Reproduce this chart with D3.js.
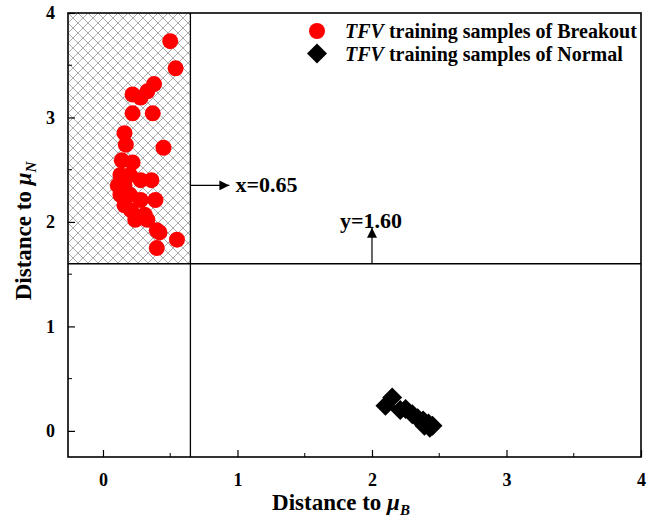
<!DOCTYPE html>
<html>
<head>
<meta charset="utf-8">
<script src="https://cdn.jsdelivr.net/npm/d3@7"></script>
<style>
  body { margin: 0; background: #fff; }
  svg { font-family: "Liberation Serif", "Times New Roman", serif; font-weight: bold; }
</style>
</head>
<body>
<svg width="651" height="518"></svg>
<script>
"use strict";

// TFV training samples
const breakoutX = [0.50, 0.54, 0.38, 0.33, 0.22, 0.28, 0.22, 0.37, 0.16, 0.17, 0.45, 0.14, 0.22,
  0.13, 0.20, 0.16, 0.11, 0.28, 0.36, 0.13, 0.20, 0.28, 0.39, 0.21, 0.16, 0.24, 0.33, 0.31,
  0.42, 0.40, 0.55, 0.40];
const breakoutY = [3.73, 3.47, 3.32, 3.25, 3.22, 3.19, 3.04, 3.04, 2.85, 2.74, 2.71, 2.59, 2.57,
  2.45, 2.45, 2.35, 2.35, 2.40, 2.40, 2.26, 2.26, 2.21, 2.21, 2.11, 2.16, 2.02, 2.02, 2.07,
  1.90, 1.92, 1.83, 1.75];
const normalX = [2.15, 2.10, 2.21, 2.25, 2.30, 2.34, 2.38, 2.42, 2.45, 2.43, 2.39];
const normalY = [0.32, 0.24, 0.20, 0.21, 0.16, 0.12, 0.10, 0.07, 0.05, 0.03, 0.05];

const xTicks = [0, 1, 2, 3, 4];
const yTicks = [0, 1, 2, 3, 4];
const xThreshold = 0.65;
const yThreshold = 1.60;
const legendLabels = ["training samples of Breakout", "training samples of Normal"];

const svg = d3.select("svg");
const margin = { top: 13, right: 10, bottom: 61, left: 68 };
const width = 651 - margin.left - margin.right;
const height = 518 - margin.top - margin.bottom;

const x = d3.scaleLinear().domain([-0.26, 4]).range([0, width]);
const y = d3.scaleLinear().domain([-0.25, 4]).range([height, 0]);

// crosshatch pattern
const defs = svg.append("defs");
const pat = defs.append("pattern")
  .attr("id", "hatch")
  .attr("patternUnits", "userSpaceOnUse")
  .attr("width", 10).attr("height", 10);
pat.append("path")
  .attr("d", "M0,0L10,10M10,0L0,10M-5,5L5,15M5,-5L15,5M-5,5L5,-5M5,15L15,5")
  .attr("stroke", "#a0a0a0").attr("stroke-width", 0.9).attr("fill", "none");

const g = svg.append("g").attr("transform", `translate(${margin.left},${margin.top})`);

g.append("rect")
  .attr("x", 0).attr("y", y(4))
  .attr("width", x(xThreshold)).attr("height", y(yThreshold) - y(4))
  .attr("fill", "url(#hatch)");

// axes (ticks inside)
const xAxis = d3.axisBottom(x).tickValues(xTicks).tickSize(-7).tickPadding(16).tickFormat(d3.format("d"));
const yAxis = d3.axisLeft(y).tickValues(yTicks).tickSize(-7).tickPadding(13).tickFormat(d3.format("d"));

const gx = g.append("g").attr("transform", `translate(0,${height})`).call(xAxis);
const gy = g.append("g").call(yAxis);

// minor ticks
gx.selectAll(".minor").data(d3.range(0.5, 4, 1)).enter().append("line")
  .attr("x1", d => x(d)).attr("x2", d => x(d)).attr("y1", 0).attr("y2", -4)
  .attr("stroke", "#000");
gy.selectAll(".minor").data(d3.range(0.5, 4, 1)).enter().append("line")
  .attr("y1", d => y(d)).attr("y2", d => y(d)).attr("x1", 0).attr("x2", 4)
  .attr("stroke", "#000");

[gx, gy].forEach(a => {
  a.select(".domain").remove();
  a.selectAll("text").style("font-size", "18px").style("font-weight", "bold")
    .style("font-family", "Liberation Serif, serif");
  a.selectAll(".tick line").attr("stroke-width", 1.2);
});

// frame
g.append("rect")
  .attr("width", width).attr("height", height)
  .attr("fill", "none").attr("stroke", "#000").attr("stroke-width", 1.6);

// threshold lines
g.append("line")
  .attr("x1", x(xThreshold)).attr("x2", x(xThreshold)).attr("y1", 0).attr("y2", height)
  .attr("stroke", "#000").attr("stroke-width", 1.3);
g.append("line")
  .attr("x1", 0).attr("x2", width).attr("y1", y(yThreshold)).attr("y2", y(yThreshold))
  .attr("stroke", "#000").attr("stroke-width", 1.3);

// arrows
defs.append("marker")
  .attr("id", "arr").attr("viewBox", "0 0 10 10")
  .attr("refX", 10).attr("refY", 5)
  .attr("markerWidth", 10).attr("markerHeight", 10)
  .attr("markerUnits", "userSpaceOnUse")
  .attr("orient", "auto")
  .append("path").attr("d", "M0,0L10,5L0,10Z").attr("fill", "#000");

const arrowY = y(2.35);
g.append("line")
  .attr("x1", x(xThreshold)).attr("x2", x(xThreshold) + 39)
  .attr("y1", arrowY).attr("y2", arrowY)
  .attr("stroke", "#000").attr("stroke-width", 1.2).attr("marker-end", "url(#arr)");
g.append("text")
  .attr("x", x(xThreshold) + 45).attr("y", arrowY + 7)
  .style("font-size", "22px").text("x=0.65");

const arrowX = x(2.0);
g.append("line")
  .attr("x1", arrowX).attr("x2", arrowX)
  .attr("y1", y(yThreshold)).attr("y2", y(yThreshold) - 36)
  .attr("stroke", "#000").attr("stroke-width", 1.2).attr("marker-end", "url(#arr)");
g.append("text")
  .attr("x", arrowX - 32).attr("y", y(yThreshold) - 36)
  .style("font-size", "22px").text("y=1.60");

// data points
const breakout = breakoutX.map((v, i) => ({ x: v, y: breakoutY[i] }));
const normal = normalX.map((v, i) => ({ x: v, y: normalY[i] }));

g.selectAll(".bk").data(breakout).enter().append("circle")
  .attr("class", "bk")
  .attr("cx", d => x(d.x)).attr("cy", d => y(d.y)).attr("r", 8)
  .attr("fill", "#ff0000");

const diamond = d3.symbol().type(d3.symbolSquare).size(200);
g.selectAll(".nm").data(normal).enter().append("path")
  .attr("class", "nm")
  .attr("d", diamond)
  .attr("transform", d => `translate(${x(d.x)},${y(d.y)}) rotate(45)`)
  .attr("fill", "#000");

// legend
const legend = svg.append("g").attr("transform", "translate(317,31)");
legend.append("circle").attr("cx", 0).attr("cy", 0).attr("r", 8).attr("fill", "#ff0000");
legend.append("path").attr("d", diamond).attr("transform", "translate(0,22.5) rotate(45)")
  .attr("fill", "#000");
legendLabels.forEach((lab, i) => {
  const t = legend.append("text").attr("x", 28).attr("y", 6.5 + i * 23).style("font-size", "20px");
  t.append("tspan").style("font-style", "italic").text("TFV");
  t.append("tspan").text(" " + lab);
});

// axis titles
const xt = svg.append("text")
  .attr("x", 341).attr("y", 510)
  .attr("text-anchor", "middle").style("font-size", "23px");
xt.append("tspan").text("Distance to ");
xt.append("tspan").style("font-style", "italic").text("μ");
xt.append("tspan").style("font-style", "italic").style("font-size", "15px").attr("dy", 5).text("B");

const yt = svg.append("text")
  .attr("transform", "translate(31,231) rotate(-90)")
  .attr("text-anchor", "middle").style("font-size", "23px");
yt.append("tspan").text("Distance to ");
yt.append("tspan").style("font-style", "italic").text("μ");
yt.append("tspan").style("font-style", "italic").style("font-size", "15px").attr("dy", 5).text("N");
</script>
</body>
</html>
